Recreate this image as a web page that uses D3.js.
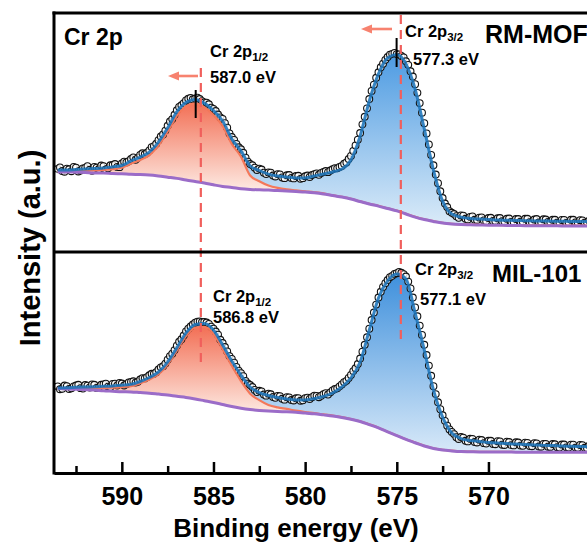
<!DOCTYPE html>
<html><head><meta charset="utf-8">
<script src="https://cdn.jsdelivr.net/npm/d3@7"></script>
<style>
html,body{margin:0;padding:0;background:#fff;}
svg{display:block;font-family:"Liberation Sans",Arial,Helvetica,sans-serif;font-weight:bold;}
</style>
</head><body>
<svg id="c" width="587" height="552"></svg>
<script>
// ---------------- DATA ----------------
// fit grid (binding energy, eV)
const fitE = [593.5,593,592.5,592,591.5,591,590.5,590,589.5,589,588.5,588,587.5,587,586.5,586,585.5,585,584.5,584,583.5,583,582.5,582,581.5,581,580.5,580,579.5,579,578.5,578,577.5,577,576.5,576,575.5,575,574.5,574,573.5,573,572.5,572,571.5,571,570.5,570,569.5,569,568.5,568,567.5,567,566.5,566,565.5,565,564.5];

// RM-MOF (top panel)
const topBackground = [33.5,33.5,33.4,33.3,33.1,33.1,32.8,32.7,32.5,32.4,32.2,31.8,31.3,30.8,30.1,29.5,28.9,28.1,27.4,27.0,26.5,26.2,26.0,25.9,25.7,25.5,25.3,25.1,24.8,24.3,23.6,23.0,22.2,21.1,20.1,19.2,18.2,17.2,15.9,14.6,13.6,12.8,12.1,11.7,11.5,11.4,11.3,11.2,11.2,11.1,11.1,11.0,11.0,11.0,11.0,10.9,10.9,10.9,10.9];
const topPeak12 = [33.7,33.7,33.8,33.9,34.1,34.3,34.7,35.3,37.0,38.5,40.5,44.6,50.4,57.0,61.0,62.2,60.6,57.3,52.8,45.2,39.9,32.0,29.6,27.8,26.8,26.2,25.8,25.4,25.0,24.5,23.7,23.1,22.3,21.2,20.2,19.3,18.3,17.3,16.0,14.7,13.7,12.9,12.2,11.8,11.6,11.5,11.4,11.3,11.3,11.2,11.2,11.1,11.1,11.1,11.1,11.0,11.0,11.0,11.0];
const topEnvelope = [34.3,34.3,34.5,34.7,34.9,35.1,35.6,36.2,38.1,39.7,41.8,46.0,51.9,58.6,62.6,63.8,62.3,59.2,54.8,47.3,42.3,36.0,34.1,32.6,31.8,31.4,31.0,31.0,31.8,32.6,33.5,34.7,38.5,48.5,63.2,74.5,81.2,82.6,78.7,68.2,51.5,34.3,21.3,15.9,14.6,14.0,13.8,13.6,13.4,13.3,13.2,13.1,13.0,13.0,12.9,12.9,12.8,12.8,12.8];

// MIL-101 (bottom panel)
const botBackground = [38.2,38.0,37.9,37.7,37.5,37.2,37.0,36.8,36.7,36.4,36.1,35.7,35.3,34.7,34.2,33.5,32.7,31.9,31.0,30.1,29.3,28.7,28.3,28.0,27.8,27.7,27.5,27.1,26.8,26.3,25.8,25.1,24.3,23.3,21.9,20.4,18.6,16.9,15.2,13.7,12.2,11.1,10.4,10.0,9.7,9.6,9.5,9.5,9.5,9.5,9.4,9.4,9.4,9.4,9.4,9.4,9.4,9.4,9.4];
const botPeak12 = [38.4,38.3,38.3,38.3,38.4,38.5,38.6,38.9,39.3,40.6,42.3,44.7,49.1,55.4,62.0,65.8,66.1,63.0,56.0,48.5,41.6,35.9,33.0,30.8,29.7,29.0,28.2,27.6,27.1,26.5,26.0,25.3,24.4,23.4,22.0,20.5,18.7,17.0,15.3,13.8,12.3,11.2,10.5,10.1,9.8,9.7,9.6,9.6,9.6,9.6,9.5,9.5,9.5,9.5,9.5,9.5,9.5,9.5,9.5];
const botEnvelope = [38.5,38.6,38.8,38.9,39.0,39.2,39.4,39.7,40.1,41.4,43.2,45.7,50.2,56.6,63.3,67.2,67.6,64.7,57.9,50.7,44.3,38.9,36.4,35.1,34.2,33.5,33.0,33.0,33.7,34.6,36.2,38.9,43.0,50.2,64.7,79.2,86.9,90.0,87.8,72.4,55.7,37.6,25.3,18.1,15.6,14.7,14.3,13.8,13.6,13.3,13.1,12.9,12.7,12.5,12.4,12.2,12.1,12.0,11.9];

// measured points (two interleaved energy grids, eV)
const dataE = [593.5,593.25,593,592.75,592.5,592.25,592,591.75,591.5,591.25,591,590.75,590.5,590.25,590,589.75,589.5,589.25,589,588.75,588.5,588.25,588,587.75,587.5,587.25,587,586.75,586.5,586.25,586,585.75,585.5,585.25,585,584.75,584.5,584.25,584,583.75,583.5,583.25,583,582.75,582.5,582.25,582,581.75,581.5,581.25,581,580.75,580.5,580.25,580,579.75,579.5,579.25,579,578.75,578.5,578.25,578,577.75,577.5,577.25,577,576.75,576.5,576.25,576,575.75,575.5,575.25,575,574.75,574.5,574.25,574,573.75,573.5,573.25,573,572.75,572.5,572.25,572,571.75,571.5,571.25,571,570.75,570.5,570.25,570,569.75,569.5,569.25,569,568.75,568.5,568.25,568,567.75,567.5,567.25,567,566.75,566.5,566.25,566,565.75,565.5,565.25,565,564.75,564.5];
const dataE2 = [593.375,593.125,592.875,592.625,592.375,592.125,591.875,591.625,591.375,591.125,590.875,590.625,590.375,590.125,589.875,589.625,589.375,589.125,588.875,588.625,588.375,588.125,587.875,587.625,587.375,587.125,586.875,586.625,586.375,586.125,585.875,585.625,585.375,585.125,584.875,584.625,584.375,584.125,583.875,583.625,583.375,583.125,582.875,582.625,582.375,582.125,581.875,581.625,581.375,581.125,580.875,580.625,580.375,580.125,579.875,579.625,579.375,579.125,578.875,578.625,578.375,578.125,577.875,577.625,577.375,577.125,576.875,576.625,576.375,576.125,575.875,575.625,575.375,575.125,574.875,574.625,574.375,574.125,573.875,573.625,573.375,573.125,572.875,572.625,572.375,572.125,571.875,571.625,571.375,571.125,570.875,570.625,570.375,570.125,569.875,569.625,569.375,569.125,568.875,568.625,568.375,568.125,567.875,567.625,567.375,567.125,566.875,566.625,566.375,566.125,565.875,565.625,565.375,565.125,564.875,564.625];
const topData = [34.8,33.9,34.9,33.8,35.3,34.1,35.2,34.4, 35.6,34.7,35.9,35.0,36.4,35.6,37.0,37.5, 38.9,38.6,40.6,40.9,42.5,44.3,46.8,49.2, 52.8,55.6,59.3,61.4,63.4,64.5,64.2,64.0, 62.6,61.8,59.9,57.5,55.7,52.0,48.1,45.2, 43.0,39.5,36.8,35.3,34.9,33.2,33.3,32.0, 32.6,31.2,32.1,31.0,31.8,30.6,31.7,31.4, 32.6,32.3,33.5,33.4,34.6,35.0,36.0,37.5, 40.2,44.6,49.8,56.6,64.0,70.0,75.2,78.8, 81.6,82.9,82.8,82.0,79.8,75.6,70.2,62.3, 53.9,45.0,36.3,28.8,22.6,18.8,16.4,15.0, 15.3,13.9,14.7,13.5,14.4,13.2,14.2,13.0, 14.1,12.9,13.9,12.6,13.8,12.7,13.9,12.5, 13.6,12.4,13.7,12.6,13.5,12.3,13.4,12.2, 13.5,12.4,13.3,12.3,13.2];
const topData2 = [35.4,33.6,34.6,35.6,33.7,35.0,35.9,34.0, 35.3,36.2,34.5,36.3,36.8,35.5,37.8,38.0, 39.6,39.4,41.3,41.5,43.9,45.3,48.3,50.8, 54.6,57.4,60.7,62.3,64.1,63.9,64.6,63.1, 62.5,60.4,59.0,56.3,53.9,49.6,46.9,43.8, 41.5,37.8,36.3,34.3,34.5,32.6,33.2,31.6, 32.5,30.9,32.2,30.8,31.9,30.9,32.0,32.2, 32.9,33.1,33.9,34.1,35.1,35.6,36.9,38.9, 42.3,47.0,53.4,60.1,67.4,72.9,77.3,80.4, 82.6,83.3,82.7,81.4,78.3,73.4,66.6,58.3, 49.6,40.6,32.4,25.4,20.3,17.1,15.9,14.3, 15.2,13.6,14.9,13.4,14.5,12.9,14.3,13.0, 14.2,12.8,14.0,12.6,13.8,12.7,13.9,12.5, 13.8,12.4,13.6,12.5,13.5,12.2,13.4,12.3, 13.5,12.2,13.2,12.4];
const botData = [39.2,38.1,39.3,38.3,39.6,38.4,39.8,38.7, 39.9,38.8,40.1,39.1,40.3,39.6,40.5,40.2, 41.2,40.9,42.3,42.8,44.2,44.9,46.8,48.3, 51.3,54.0,57.6,60.5,64.1,66.3,68.0,68.6, 68.4,67.5,65.3,62.6,58.8,55.0,51.6,48.0, 45.2,41.7,39.8,37.6,37.2,35.5,35.9,34.4, 34.9,33.6,34.3,33.0,33.8,32.7,33.9,33.5, 35.0,34.3,35.7,35.5,37.4,38.3,40.1,41.7, 44.4,47.4,51.8,58.0,65.3,72.6,79.4,84.2, 87.3,89.2,90.4,90.6,88.9,83.5,74.9,66.7, 58.0,48.6,39.3,32.0,26.1,21.4,18.6,16.2, 16.3,14.6,15.5,14.0,15.1,13.5,14.6,13.1, 14.4,12.8,14.2,12.6,13.9,12.4,13.7,12.2, 13.5,12.0,13.2,11.9,13.1,11.7,12.9,11.6, 12.8,11.5,12.7,11.4,12.5];
const botData2 = [37.9,39.6,38.0,39.2,39.9,38.2,39.5,40.1, 38.5,39.9,40.4,38.9,40.4,40.8,39.6,41.0, 41.5,41.3,42.9,43.4,44.9,45.6,47.8,49.5, 52.9,55.6,59.4,62.2,65.3,67.2,68.5,68.3, 68.1,66.2,64.0,60.3,57.0,52.9,49.9,46.3, 43.8,40.5,38.9,36.6,36.9,35.0,35.6,34.0, 34.8,33.2,34.2,32.8,33.9,32.9,34.1,34.3, 34.9,35.0,36.1,36.5,38.0,39.2,41.1,43.0, 46.1,49.3,54.9,61.4,69.2,76.2,82.0,85.9, 88.6,90.1,91.0,90.0,86.6,79.4,70.9,62.5, 53.4,44.0,35.7,28.9,23.6,19.7,17.6,15.4, 16.0,14.3,15.4,13.8,14.9,13.3,14.6,13.0, 14.3,12.7,14.0,12.5,13.8,12.3,13.6,12.1, 13.4,11.9,13.2,11.8,13.0,11.5,12.9,11.5, 12.8,11.4,12.6,11.3];

const majorTicks = [590,585,580,575,570];
const minorTicks = [592.5,587.5,582.5,577.5,572.5];
const sampleNames = ["RM-MOF","MIL-101"];
const peakNames = ["1/2","3/2"];
const topPeakLabels = ["587.0 eV","577.3 eV"];
const botPeakLabels = ["586.8 eV","577.1 eV"];
const guideLines = [585.69, 574.78];     // dashed reference lines (axis eV)
const topMarkers = [585.97, 575.01];     // black peak markers in top panel

// ---------------- DRAW ----------------
const svg = d3.select("#c");
const x = d3.scaleLinear().domain([593.7, 564.46]).range([54, 590]);
const yTop = d3.scaleLinear().domain([0,100]).range([252,13]);
const yBot = d3.scaleLinear().domain([0,100]).range([473,252]);

const defs = svg.append("defs");
defs.append("clipPath").attr("id","plotclip").append("rect")
  .attr("x",54).attr("y",13).attr("width",540).attr("height",460);

function grad(id, c1, c2, y1, y2){
  const g = defs.append("linearGradient").attr("id",id)
    .attr("gradientUnits","userSpaceOnUse").attr("x1",0).attr("x2",0).attr("y1",y1).attr("y2",y2);
  g.append("stop").attr("offset","0%").attr("stop-color",c1);
  g.append("stop").attr("offset","100%").attr("stop-color",c2);
}
grad("blueTop","#4d9be2","#d9eaf8", yTop(83), yTop(12));
grad("orTop","#f26a4f","#fde6de", yTop(64), yTop(27));
grad("blueBot","#3f90dc","#d6e8f8", yBot(90), yBot(10));
grad("orBot","#f26a4f","#fde6de", yBot(68), yBot(28));

const plot = svg.append("g").attr("clip-path","url(#plotclip)");

function panel(y, bg, p1, env, dataA, dataB, gBlue, gOr){
  const rows = fitE.map((e,i)=>({e, bg:bg[i], p1:p1[i], env:env[i]}));
  const curve = d3.curveMonotoneX;
  plot.append("path").datum(rows)
    .attr("d", d3.area().x(d=>x(d.e)).y0(d=>y(d.bg)).y1(d=>y(d.env)).curve(curve))
    .attr("fill","url(#"+gBlue+")");
  plot.append("path").datum(rows)
    .attr("d", d3.area().x(d=>x(d.e)).y0(d=>y(d.bg)).y1(d=>y(d.p1)).curve(curve))
    .attr("fill","url(#"+gOr+")");
  const pts = dataE.map((e,i)=>({e, v:dataA[i]}))
    .concat(dataE2.map((e,i)=>({e, v:dataB[i]})))
    .filter(d=>d.v!=null).sort((a,b)=>b.e-a.e);
  plot.append("g").selectAll("circle").data(pts).join("circle")
    .attr("cx",d=>x(d.e)).attr("cy",d=>y(d.v)).attr("r",3.4)
    .attr("fill","#fff").attr("fill-opacity",0.8)
    .attr("stroke","#111").attr("stroke-width",1.1);
  plot.append("path").datum(rows)
    .attr("d", d3.line().x(d=>x(d.e)).y(d=>y(d.p1)).curve(curve))
    .attr("fill","none").attr("stroke","#f4785a").attr("stroke-width",2.2);
  plot.append("path").datum(rows)
    .attr("d", d3.line().x(d=>x(d.e)).y(d=>y(d.bg)).curve(curve))
    .attr("fill","none").attr("stroke","#9b6cc8").attr("stroke-width",3);
  plot.append("path").datum(rows)
    .attr("d", d3.line().x(d=>x(d.e)).y(d=>y(d.env)).curve(curve))
    .attr("fill","none").attr("stroke","#1c74ba").attr("stroke-width",3).attr("stroke-opacity",0.88);
}
panel(yTop, topBackground, topPeak12, topEnvelope, topData, topData2, "blueTop", "orTop");
panel(yBot, botBackground, botPeak12, botEnvelope, botData, botData2, "blueBot", "orBot");

// dashed guide lines
const dashColor = "#f05f5c";
svg.append("line").attr("x1",x(guideLines[0])).attr("x2",x(guideLines[0]))
  .attr("y1",68).attr("y2",366).attr("stroke",dashColor).attr("stroke-width",2.2).attr("stroke-dasharray","9,6");
svg.append("line").attr("x1",x(guideLines[1])).attr("x2",x(guideLines[1]))
  .attr("y1",15).attr("y2",342).attr("stroke",dashColor).attr("stroke-width",2.2).attr("stroke-dasharray","9,6");

// black peak markers
svg.append("line").attr("x1",x(topMarkers[0])).attr("x2",x(topMarkers[0])).attr("y1",90).attr("y2",118)
  .attr("stroke","#000").attr("stroke-width",2);
svg.append("line").attr("x1",x(topMarkers[1])).attr("x2",x(topMarkers[1])).attr("y1",38).attr("y2",67)
  .attr("stroke","#000").attr("stroke-width",2);

// arrows
function arrow(x0, tip, yy){
  const c = "#f7826f";
  svg.append("line").attr("x1",x0).attr("x2",tip+9).attr("y1",yy).attr("y2",yy)
    .attr("stroke",c).attr("stroke-width",2.6);
  svg.append("path").attr("d",`M${tip},${yy}L${tip+11},${yy-4.5}L${tip+11},${yy+4.5}Z`).attr("fill",c);
}
arrow(198,168,76);
arrow(392,361,29);

// frame
svg.append("line").attr("x1",52.5).attr("x2",590).attr("y1",13).attr("y2",13).attr("stroke","#000").attr("stroke-width",3);
svg.append("line").attr("x1",54).attr("x2",590).attr("y1",252).attr("y2",252).attr("stroke","#000").attr("stroke-width",3);
svg.append("line").attr("x1",54).attr("x2",54).attr("y1",11.5).attr("y2",474.5).attr("stroke","#000").attr("stroke-width",3);

// x axis
const gx = svg.append("g").attr("transform","translate(0,473)")
  .call(d3.axisBottom(x).tickValues(majorTicks).tickSizeInner(-11).tickSizeOuter(0).tickPadding(14).tickFormat(d3.format("d")));
gx.select(".domain").attr("stroke","#000").attr("stroke-width",3);
gx.selectAll(".tick line").attr("stroke","#000").attr("stroke-width",2.5);
gx.selectAll(".tick text").attr("font-size",25).attr("font-weight","bold").attr("fill","#000")
  .attr("font-family",'"Liberation Sans",Arial,sans-serif');
const gm = svg.append("g").attr("transform","translate(0,473)")
  .call(d3.axisBottom(x).tickValues(minorTicks).tickSizeInner(-7).tickSizeOuter(0).tickFormat(""));
gm.select(".domain").remove();
gm.selectAll(".tick line").attr("stroke","#000").attr("stroke-width",2.5);

// axis titles
svg.append("text").attr("x",296).attr("y",537).attr("text-anchor","middle")
  .attr("font-size",26).text("Binding energy (eV)");
svg.append("text").attr("transform","translate(40,248) rotate(-90)").attr("text-anchor","middle")
  .attr("font-size",29).text("Intensity (a.u.)");

// panel titles
svg.append("text").attr("x",64).attr("y",45).attr("font-size",23).text("Cr 2p");
svg.append("text").attr("x",485).attr("y",43).attr("font-size",25).text(sampleNames[0]);
svg.append("text").attr("x",492).attr("y",282).attr("font-size",24).text(sampleNames[1]);

// peak labels
function peakLabel(px, py, sub, vx, vy, val){
  const t = svg.append("text").attr("x",px).attr("y",py).attr("font-size",16.5);
  t.append("tspan").text("Cr 2p");
  t.append("tspan").attr("font-size",11.5).attr("dy",4).text(sub);
  svg.append("text").attr("x",vx).attr("y",vy).attr("font-size",16.5).text(val);
}
peakLabel(210,57,peakNames[0],210,83,topPeakLabels[0]);
peakLabel(405,37,peakNames[1],413,65,topPeakLabels[1]);
peakLabel(213,302,peakNames[0],213,323,botPeakLabels[0]);
peakLabel(415,275,peakNames[1],420,305,botPeakLabels[1]);
</script>
</body></html>
